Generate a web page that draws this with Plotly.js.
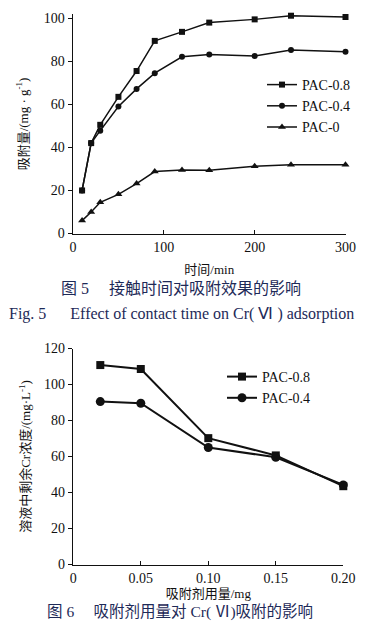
<!DOCTYPE html>
<html><head><meta charset="utf-8">
<script src="https://cdn.plot.ly/plotly-3.0.1.min.js"></script>
<style>html,body{margin:0;padding:0;background:#fff;}#c{width:370px;height:632px;}</style>
</head><body><div id="c"></div>
<script>
// Fig.5 data: contact time (min) vs adsorption (mg/g)
const time = [10, 20, 30, 50, 70, 90, 120, 150, 200, 240, 300];
const pac08 = [20, 42, 50.5, 63.5, 75.5, 89.5, 93.7, 98, 99.5, 101.2, 100.6];
const pac04 = [20, 42, 47.8, 59, 67.2, 74.5, 82.1, 83.2, 82.5, 85.3, 84.5];
const pac0 = [6, 10, 14.5, 18.2, 23.2, 28.8, 29.5, 29.4, 31.3, 31.9, 31.9];
// Fig.6 data: adsorbent dose (mg) vs residual Cr concentration (mg/L)
const dose = [0.02, 0.05, 0.10, 0.15, 0.20];
const res08 = [110.8, 108.6, 70.2, 60.6, 43.5];
const res04 = [90.5, 89.6, 65, 59.6, 44.2];
const doseTicks = [0, 0.05, 0.10, 0.15, 0.20];
const doseTickText = ['0', '0.05', '0.10', '0.15', '0.20'];

const W = 370, H = 632;
const px = v => v / W, py = v => 1 - v / H;
const serif = 'Liberation Serif, Times New Roman, serif';
const cjk = 'Liberation Serif, Noto Sans CJK SC, serif';
const navy = '#1e2a58';
const lineStyle = {color: '#111', width: 1.5};

const traces = [
  {x: time, y: pac08, name: 'PAC-0.8', mode: 'lines+markers', line: lineStyle, cliponaxis: false,
   marker: {symbol: 'square', size: 6, color: '#111'}, xaxis: 'x', yaxis: 'y', legend: 'legend'},
  {x: time, y: pac04, name: 'PAC-0.4', mode: 'lines+markers', line: lineStyle, cliponaxis: false,
   marker: {symbol: 'circle', size: 6, color: '#111'}, xaxis: 'x', yaxis: 'y', legend: 'legend'},
  {x: time, y: pac0, name: 'PAC-0', mode: 'lines+markers', line: lineStyle, cliponaxis: false,
   marker: {symbol: 'triangle-up', size: 7, color: '#111'}, xaxis: 'x', yaxis: 'y', legend: 'legend'},
  {x: dose, y: res08, name: 'PAC-0.8', mode: 'lines+markers', line: {color: '#111', width: 2}, cliponaxis: false,
   marker: {symbol: 'square', size: 8, color: '#111'}, xaxis: 'x2', yaxis: 'y2', legend: 'legend2'},
  {x: dose, y: res04, name: 'PAC-0.4', mode: 'lines+markers', line: {color: '#111', width: 2}, cliponaxis: false,
   marker: {symbol: 'circle', size: 9, color: '#111'}, xaxis: 'x2', yaxis: 'y2', legend: 'legend2'}
];

const axBase = {showgrid: false, zeroline: false, showline: true, linecolor: '#111', linewidth: 1.4,
  tickcolor: '#111', tickwidth: 1.2, ticklen: 4, tickfont: {family: serif, size: 14, color: '#111'}};

// y range slightly above 100 so the 240/300 min points (>100) stay visible
const yTop = 101.8;
const y0px = 233.5, y100px = 18.3;
const yTopPx = y0px - (y0px - y100px) * yTop / 100;

const layout = {
  width: W, height: H, margin: {l: 0, r: 0, t: 0, b: 0},
  paper_bgcolor: '#fff', plot_bgcolor: '#fff', showlegend: true,
  xaxis: Object.assign({}, axBase, {domain: [px(73), px(345.5)], range: [0, 300], dtick: 100,
    ticks: 'inside', anchor: 'y',
    title: {text: '时间/min', font: {family: cjk, size: 13, color: '#111'}, standoff: 11}}),
  yaxis: Object.assign({}, axBase, {domain: [py(y0px), py(yTopPx)], range: [0, yTop],
    tickvals: [0, 20, 40, 60, 80, 100],
    ticks: 'outside', anchor: 'x',
    title: {text: '吸附量/(mg · g<sup>-1</sup>)', font: {family: cjk, size: 13, color: '#111'}, standoff: 12}}),
  xaxis2: Object.assign({}, axBase, {domain: [px(73.3), px(343.3)], range: [0, 0.2],
    tickvals: doseTicks, ticktext: doseTickText, ticks: 'inside', anchor: 'y2',
    title: {text: '吸附剂用量/mg', font: {family: cjk, size: 13, color: '#111'}, standoff: 4}}),
  yaxis2: Object.assign({}, axBase, {domain: [py(564.5), py(348.5)], range: [0, 120], dtick: 20,
    ticks: 'outside', anchor: 'x2',
    title: {text: '溶液中剩余Cr浓度/(mg·L<sup>-1</sup>)', font: {family: cjk, size: 13, color: '#111'}, standoff: 10}}),
  legend: {x: px(262), y: py(69), xanchor: 'left', yanchor: 'top', bgcolor: 'rgba(0,0,0,0)',
    font: {family: serif, size: 14, color: '#111'}, itemwidth: 30, tracegroupgap: 0},
  legend2: {x: px(222), y: py(361), xanchor: 'left', yanchor: 'top', bgcolor: 'rgba(0,0,0,0)',
    font: {family: serif, size: 14, color: '#111'}, itemwidth: 30, tracegroupgap: 0},
  annotations: [
    {xref: 'paper', yref: 'paper', x: px(181), y: py(288), text: '图 5　 接触时间对吸附效果的影响',
     showarrow: false, font: {family: cjk, size: 16, color: navy}},
    {xref: 'paper', yref: 'paper', x: px(181), y: py(314), text: 'Fig. 5　  Effect of contact time on Cr( Ⅵ ) adsorption',
     showarrow: false, font: {family: serif, size: 16, color: navy}},
    {xref: 'paper', yref: 'paper', x: px(180), y: py(623), text: '图 6　 吸附剂用量对 Cr( Ⅵ)吸附的影响',
     showarrow: false, font: {family: cjk, size: 15.5, color: navy}}
  ]
};

Plotly.newPlot('c', traces, layout, {staticPlot: true, displayModeBar: false});
</script></body></html>
